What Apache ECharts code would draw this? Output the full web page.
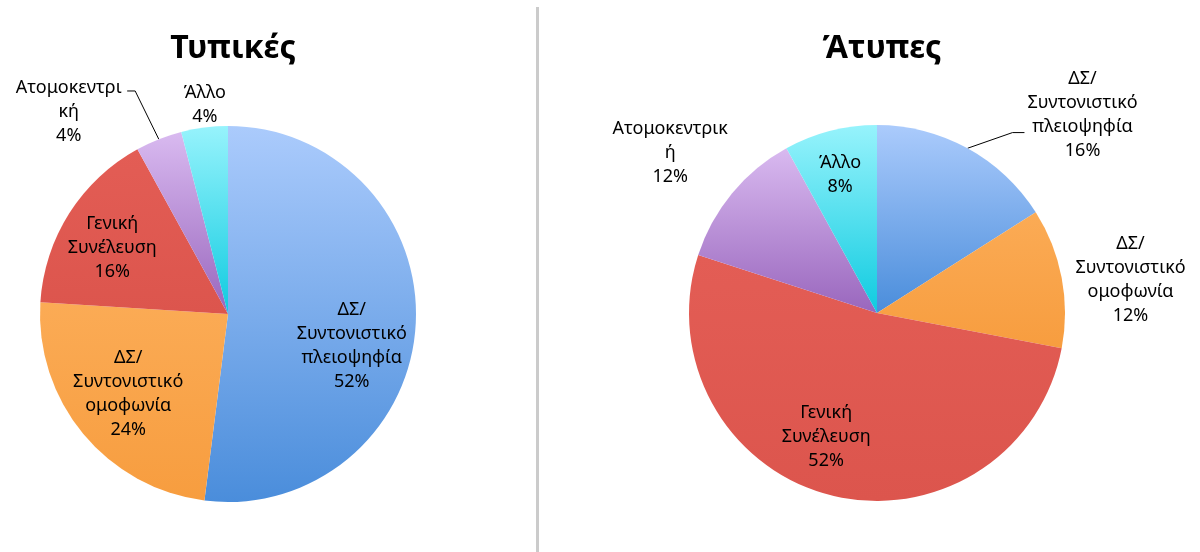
<!DOCTYPE html>
<html>
<head>
<meta charset="utf-8">
<title>Τυπικές / Άτυπες</title>
<script src="https://cdn.jsdelivr.net/npm/echarts@6/dist/echarts.min.js"></script>
<style>
  html, body { margin: 0; padding: 0; background: #fff; }
  #chart { width: 1200px; height: 552px; }
</style>
</head>
<body>
<div id="chart"></div>
<script>
// slices, clockwise from 12 o'clock
var categories = ['ΔΣ/ Συντονιστικό πλειοψηφία', 'ΔΣ/ Συντονιστικό ομοφωνία', 'Γενική Συνέλευση', 'Ατομοκεντρική', 'Άλλο']
// label text wrapped the way the original wraps it
var labelsTypical = ['ΔΣ/\nΣυντονιστικό\nπλειοψηφία', 'ΔΣ/\nΣυντονιστικό\nομοφωνία', 'Γενική\nΣυνέλευση', 'Ατομοκεντρι\nκή', 'Άλλο']
var labelsInformal = ['ΔΣ/\nΣυντονιστικό\nπλειοψηφία', 'ΔΣ/\nΣυντονιστικό\nομοφωνία', 'Γενική\nΣυνέλευση', 'Ατομοκεντρικ\nή', 'Άλλο']
var typicalValues = [52, 24, 16, 4, 4]
var informalValues = [16, 12, 52, 12, 8]
var titles = ['Τυπικές', 'Άτυπες']

var FONT = 'Noto Sans'
var R = 188
var CENTERS = [[228, 314], [877, 313]]

// label placement: [angle shift from slice mid-angle (deg), distance / radius]
var placeTypical = [[10.9, 0.68], [0.9, 0.68], [-2.5, 0.71], [-16.6, 1.37], [0.9, 1.12]]
var placeInformal = [[17.2, 1.52], [3.4, 1.36], [8, 0.71], [-1.9, 1.39], [-0.6, 0.76]]
// leader lines: index -> [elbow angle shift, elbow distance / radius, horizontal run px]
var leadersTypical = { 3: [-1, 1.285, -8] }
var leadersInformal = { 0: [8.1, 1.2, 12] }

var colors = [
  ['#abcbfc', '#4a8ddb'],
  ['#fbab55', '#f79d3f'],
  ['#e35d55', '#dc554d'],
  ['#d9baf0', '#9966bd'],
  ['#97f3fc', '#0fcbe0']
]

function grad (pair) {
  return new echarts.graphic.LinearGradient(0, 0, 0, 1, [
    { offset: 0, color: pair[0] },
    { offset: 1, color: pair[1] }
  ])
}

function polar (c, deg, dist) {
  var a = deg * Math.PI / 180
  return [c[0] + Math.sin(a) * dist, c[1] - Math.cos(a) * dist]
}

function midAngles (values) {
  var total = values.reduce(function (a, b) { return a + b }, 0)
  var cum = 0
  return values.map(function (v) {
    var m = (cum + v / 2) / total * 360
    cum += v
    return m
  })
}

function buildSeries (values, labels, place, leaders, c) {
  var mids = midAngles(values)
  var data = values.map(function (v, i) {
    var lead = leaders[i] != null
    return {
      name: categories[i],
      value: v,
      itemStyle: { color: grad(colors[i]) },
      label: { position: lead ? 'outside' : 'inside' },
      labelLine: { show: lead }
    }
  })
  return {
    type: 'pie',
    center: [c[0], c[1]],
    radius: R,
    startAngle: 90,
    clockwise: true,
    avoidLabelOverlap: false,
    silent: true,
    animation: false,
    data: data,
    label: {
      show: true,
      color: '#000',
      fontFamily: FONT,
      fontSize: 18,
      lineHeight: 24,
      align: 'center',
      formatter: function (p) {
        return labels[p.dataIndex] + '\n' + p.value + '%'
      }
    },
    labelLine: {
      lineStyle: { color: '#000', width: 1 }
    },
    labelLayout: function (p) {
      var i = p.dataIndex
      var pos = polar(c, mids[i] + place[i][0], place[i][1] * R)
      var out = { x: pos[0], y: pos[1], align: 'center', verticalAlign: 'middle' }
      var l = leaders[i]
      if (l) {
        var start = polar(c, mids[i], R)
        var elbow = polar(c, mids[i] + l[0], l[1] * R)
        out.labelLinePoints = [start, elbow, [elbow[0] + l[2], elbow[1]]]
      }
      return out
    }
  }
}

var chart = echarts.init(document.getElementById('chart'))
chart.setOption({
  backgroundColor: '#fff',
  title: titles.map(function (t, i) {
    return {
      text: t,
      left: CENTERS[i][0],
      top: 28,
      textAlign: 'center',
      textStyle: { fontFamily: FONT, fontSize: 32, fontWeight: 'bold', color: '#000' }
    }
  }),
  graphic: [{
    type: 'line',
    shape: { x1: 537.5, y1: 7, x2: 537.5, y2: 552 },
    style: { stroke: '#cbcbcb', lineWidth: 3 },
    silent: true
  }],
  series: [
    buildSeries(typicalValues, labelsTypical, placeTypical, leadersTypical, CENTERS[0]),
    buildSeries(informalValues, labelsInformal, placeInformal, leadersInformal, CENTERS[1])
  ]
})
</script>
</body>
</html>
